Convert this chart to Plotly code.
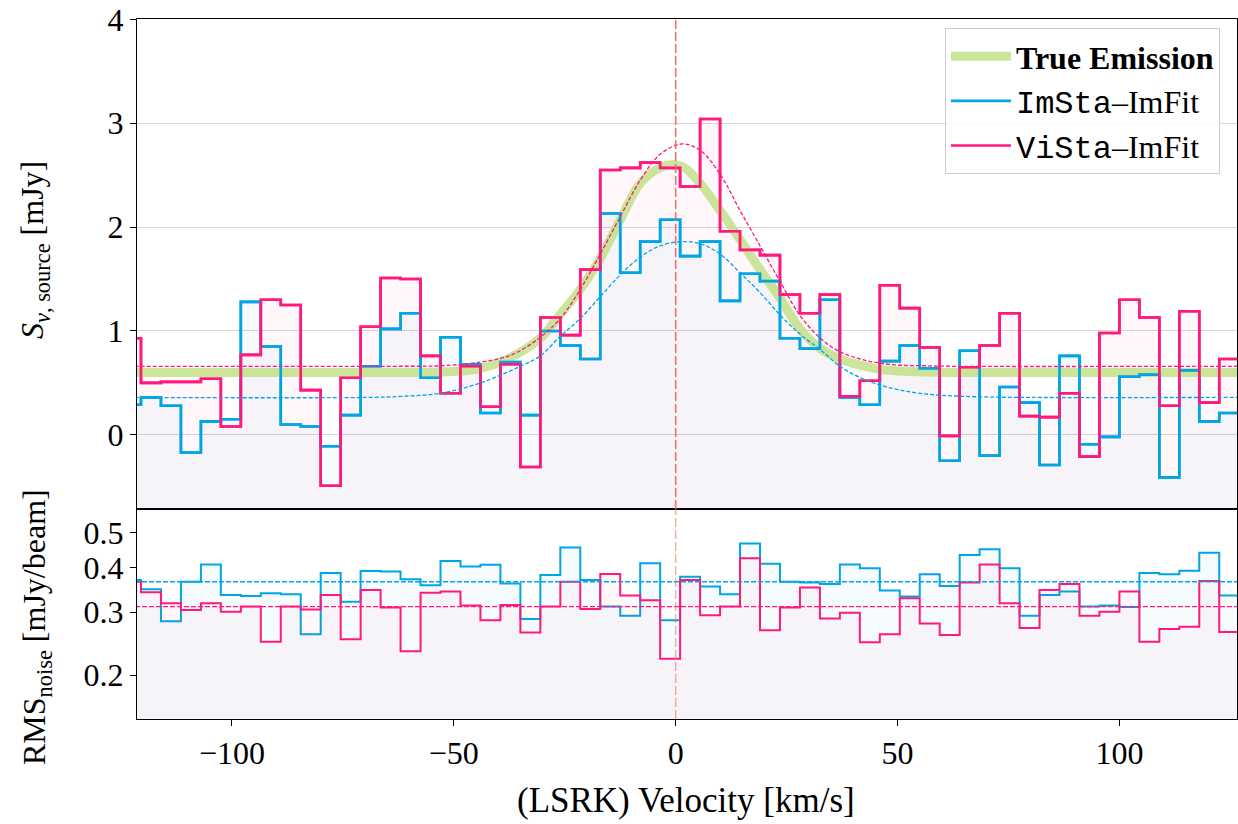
import plotly.graph_objects as go

# ---------------- data ----------------
channel_width = 4.5  # km/s
velocity = [-122.75, -118.25, -113.75, -109.25, -104.75, -100.25, -95.75, -91.25,
            -86.75, -82.25, -77.75, -73.25, -68.75, -64.25, -59.75, -55.25,
            -50.75, -46.25, -41.75, -37.25, -32.75, -28.25, -23.75, -19.25,
            -14.75, -10.25, -5.75, -1.25, 3.25, 7.75, 12.25, 16.75,
            21.25, 25.75, 30.25, 34.75, 39.25, 43.75, 48.25, 52.75,
            57.25, 61.75, 66.25, 70.75, 75.25, 79.75, 84.25, 88.75,
            93.25, 97.75, 102.25, 106.75, 111.25, 115.75, 120.25, 124.75]

vista_flux = [0.93, 0.50, 0.51, 0.51, 0.54, 0.08, 0.77, 1.30,
              1.25, 0.43, -0.49, 0.55, 1.04, 1.51, 1.50, 0.76,
              0.40, 0.66, 0.27, 0.68, -0.31, 1.13, 0.96, 1.59,
              2.55, 2.57, 2.62, 2.57, 2.39, 3.04, 1.96, 1.78,
              1.73, 1.35, 1.17, 1.35, 0.37, 0.52, 1.44, 1.22,
              0.84, -0.01, 0.65, 0.86, 1.17, 0.18, 0.17, 0.40,
              -0.21, 0.98, 1.30, 1.13, 0.28, 1.19, 0.31, 0.73]

imsta_flux = [0.29, 0.36, 0.28, -0.17, 0.13, 0.15, 1.28, 0.85,
              0.10, 0.08, -0.11, 0.19, 0.66, 1.02, 1.17, 0.55,
              0.94, 0.68, 0.21, 0.70, 0.19, 1.00, 0.86, 0.73,
              2.13, 1.56, 1.86, 2.07, 1.72, 1.86, 1.29, 1.55,
              1.48, 0.93, 0.83, 1.30, 0.36, 0.29, 0.71, 0.86,
              0.64, -0.25, 0.81, -0.20, 0.46, 0.31, -0.29, 0.76,
              -0.09, -0.02, 0.56, 0.58, -0.41, 0.62, 0.13, 0.21]

imsta_rms = [0.369, 0.348, 0.283, 0.365, 0.408, 0.335, 0.333, 0.339,
             0.337, 0.260, 0.386, 0.321, 0.391, 0.390, 0.371, 0.357,
             0.417, 0.403, 0.407, 0.361, 0.287, 0.381, 0.455, 0.369,
             0.311, 0.293, 0.411, 0.285, 0.377, 0.354, 0.337, 0.467,
             0.410, 0.365, 0.363, 0.360, 0.408, 0.398, 0.345, 0.332,
             0.383, 0.355, 0.434, 0.450, 0.398, 0.293, 0.335, 0.343,
             0.311, 0.313, 0.310, 0.386, 0.383, 0.392, 0.440, 0.334]

vista_rms = [0.365, 0.341, 0.318, 0.304, 0.318, 0.301, 0.311, 0.248,
             0.311, 0.305, 0.335, 0.252, 0.346, 0.309, 0.233, 0.340,
             0.343, 0.313, 0.285, 0.314, 0.263, 0.311, 0.365, 0.306,
             0.384, 0.334, 0.324, 0.222, 0.369, 0.294, 0.311, 0.425,
             0.267, 0.309, 0.352, 0.288, 0.299, 0.247, 0.260, 0.328,
             0.279, 0.259, 0.363, 0.408, 0.318, 0.271, 0.346, 0.360,
             0.293, 0.301, 0.343, 0.248, 0.269, 0.273, 0.367, 0.264]

imsta_rms_mean = 0.365
vista_rms_mean = 0.311

true_v = [-126, -70, -60, -50, -44, -37, -30.5, -26, -21.5, -17, -12.5, -8, -4, -1,
          2, 5.5, 10, 14.5, 19, 23.6, 28, 32.6, 37, 41.6, 46, 50.6, 56, 62, 70, 127]
true_flux = [0.60, 0.60, 0.60, 0.61, 0.64, 0.75, 0.93, 1.16, 1.40, 1.70, 2.07, 2.42, 2.56, 2.60,
             2.57, 2.42, 2.16, 1.88, 1.59, 1.31, 1.02, 0.83, 0.73, 0.67, 0.63, 0.615, 0.605, 0.60, 0.60, 0.60]

vista_fit_v = [-126, -62, -53, -44, -37, -30.5, -26, -21.5, -17, -12.5, -8, -3.5, 1.4,
               5.5, 10, 14.5, 19, 23.6, 28, 32.6, 37, 41.6, 46, 50.6, 56, 62, 127]
vista_fit = [0.66, 0.66, 0.665, 0.70, 0.77, 0.94, 1.12, 1.40, 1.74, 2.10, 2.45, 2.70, 2.80,
             2.74, 2.51, 2.16, 1.82, 1.47, 1.15, 0.93, 0.80, 0.73, 0.69, 0.67, 0.665, 0.66, 0.66]

imsta_fit_v = [-126, -70, -62, -53, -44, -35, -30.5, -26, -21.5, -17, -12.5, -8, -3.5, 1.4,
               5.5, 10, 14.5, 19, 23.6, 28, 32.6, 37, 41.6, 46, 50.6, 55, 60, 69, 80, 127]
imsta_fit = [0.36, 0.36, 0.37, 0.40, 0.50, 0.66, 0.76, 0.95, 1.12, 1.33, 1.54, 1.71, 1.82, 1.86,
             1.84, 1.74, 1.56, 1.37, 1.15, 0.97, 0.82, 0.66, 0.55, 0.48, 0.43, 0.40, 0.38, 0.365, 0.36, 0.36]

x_range = [-121.4, 126.5]

# ---------------- styles ----------------
BLUE = "rgb(0,165,230)"
PINK = "rgb(255,25,125)"
BLUE_FILL = "rgba(0,160,230,0.035)"
PINK_FILL = "rgba(255,25,125,0.035)"
GREEN = "rgba(185,222,120,0.75)"
SERIF = "Liberation Serif"
MONO = "Liberation Mono"
FS = 32

T, B = 19, 105
PH = 824 - T - B          # plot-area height in px
BOTTOM_PX = 824 - B       # pixel row of the lower x axis


def step_xy(vals):
    xs = [v - channel_width / 2 for v in velocity] + [velocity[-1] + channel_width / 2]
    ys = list(vals) + [vals[-1]]
    return xs, ys


def py(pix):
    return (BOTTOM_PX - pix) / PH


fig = go.Figure()
xe0 = velocity[0] - channel_width / 2
xe1 = velocity[-1] + channel_width / 2

# ---- legend entries (first, so they lead the legend) ----
fig.add_trace(go.Scatter(x=[None], y=[None], mode="lines", line=dict(color=GREEN, width=9),
                         name="<b>True Emission</b>", xaxis="x", yaxis="y"))
fig.add_trace(go.Scatter(x=[None], y=[None], mode="lines", line=dict(color=BLUE, width=2.6),
                         name=f"<span style='font-family:{MONO}'>ImSta</span>–ImFit", xaxis="x", yaxis="y"))
fig.add_trace(go.Scatter(x=[None], y=[None], mode="lines", line=dict(color=PINK, width=2.6),
                         name=f"<span style='font-family:{MONO}'>ViSta</span>–ImFit", xaxis="x", yaxis="y"))

# ---- top panel: fills + steps ----
for vals, col, fcol in [(imsta_flux, BLUE, BLUE_FILL), (vista_flux, PINK, PINK_FILL)]:
    fig.add_trace(go.Scatter(x=[xe0, xe1], y=[-5, -5], mode="lines", line=dict(width=0),
                             showlegend=False, hoverinfo="skip", xaxis="x", yaxis="y"))
    xs, ys = step_xy(vals)
    fig.add_trace(go.Scatter(x=xs, y=ys, mode="lines", line=dict(color=col, width=2.6, shape="hv"),
                             fill="tonexty", fillcolor=fcol, showlegend=False, xaxis="x", yaxis="y"))

# true emission
fig.add_trace(go.Scatter(x=true_v, y=true_flux, mode="lines",
                         line=dict(color=GREEN, width=9, shape="spline"),
                         showlegend=False, xaxis="x", yaxis="y"))

# redraw step lines on top of green
for vals, col in [(imsta_flux, BLUE), (vista_flux, PINK)]:
    xs, ys = step_xy(vals)
    fig.add_trace(go.Scatter(x=xs, y=ys, mode="lines", line=dict(color=col, width=2.6, shape="hv"),
                             showlegend=False, xaxis="x", yaxis="y"))

# fits
fig.add_trace(go.Scatter(x=imsta_fit_v, y=imsta_fit, mode="lines",
                         line=dict(color=BLUE, width=1.3, dash="4px,2px", shape="spline"),
                         showlegend=False, xaxis="x", yaxis="y"))
fig.add_trace(go.Scatter(x=vista_fit_v, y=vista_fit, mode="lines",
                         line=dict(color=PINK, width=1.3, dash="4px,2px", shape="spline"),
                         showlegend=False, xaxis="x", yaxis="y"))

# ---- bottom panel ----
for vals, col, fcol in [(imsta_rms, BLUE, BLUE_FILL), (vista_rms, PINK, PINK_FILL)]:
    fig.add_trace(go.Scatter(x=[xe0, xe1], y=[0.05, 0.05], mode="lines", line=dict(width=0),
                             showlegend=False, hoverinfo="skip", xaxis="x2", yaxis="y2"))
    xs, ys = step_xy(vals)
    fig.add_trace(go.Scatter(x=xs, y=ys, mode="lines", line=dict(color=col, width=2.0, shape="hv"),
                             fill="tonexty", fillcolor=fcol, showlegend=False, xaxis="x2", yaxis="y2"))

for mean, col in [(imsta_rms_mean, BLUE), (vista_rms_mean, PINK)]:
    fig.add_trace(go.Scatter(x=[xe0, xe1], y=[mean, mean], mode="lines",
                             line=dict(color=col, width=1.4, dash="5px,2px"),
                             showlegend=False, xaxis="x2", yaxis="y2"))

split = 210 / PH
axis_common = dict(showline=True, linecolor="black", linewidth=1, mirror=True,
                   zeroline=False, tickfont=dict(family=SERIF, size=FS, color="black"),
                   ticklen=6, tickcolor="black", automargin=False)

fig.update_layout(
    width=1238, height=824,
    margin=dict(l=137, r=1, t=T, b=B, autoexpand=False),
    paper_bgcolor="white", plot_bgcolor="white",
    font=dict(family=SERIF, size=FS, color="black"),
    xaxis=dict(domain=[0, 1], anchor="y", range=x_range, showticklabels=False, showgrid=False,
               matches="x2", ticks="", **axis_common),
    yaxis=dict(domain=[split, 1], anchor="x", range=[-0.714, 4.003], tickvals=[0, 1, 2, 3, 4],
               showgrid=True, gridcolor="#d6d6d6", gridwidth=1, ticks="outside",
               ticklabeloverflow="allow", **axis_common),
    xaxis2=dict(domain=[0, 1], anchor="y2", range=x_range, tickvals=[-100, -50, 0, 50, 100],
                showgrid=False, ticks="outside", **axis_common),
    yaxis2=dict(domain=[0, split], anchor="x2", type="log", range=[-0.822, -0.234],
                tickvals=[0.2, 0.3, 0.4, 0.5], ticktext=["0.2", "0.3", "0.4", "0.5"],
                showgrid=False, ticks="outside", **axis_common),
    legend=dict(x=0.9845, xanchor="right", y=py(28), yanchor="top", traceorder="normal",
                bgcolor="rgba(255,255,255,0.85)", bordercolor="#cccccc", borderwidth=1,
                font=dict(family=SERIF, size=FS, color="black"), itemwidth=60),
    showlegend=True,
    shapes=[
        dict(type="line", xref="x", yref="y domain", x0=0, x1=0, y0=0, y1=1,
             line=dict(color="rgba(240,100,90,0.9)", width=1.6, dash="9px,3px")),
        dict(type="line", xref="x2", yref="y2 domain", x0=0, x1=0, y0=0, y1=1,
             line=dict(color="rgba(240,110,100,0.55)", width=1.5, dash="9px,3px")),
    ],
    annotations=[
        dict(text="<i>S</i><sub><i>ν</i>, source</sub> [mJy]", xref="paper", yref="paper",
             x=(35 - 137) / 1100, y=py(250), xanchor="center", yanchor="middle",
             textangle=-90, showarrow=False, font=dict(family=SERIF, size=FS)),
        dict(text="RMS<sub>noise</sub> [mJy/beam]", xref="paper", yref="paper",
             x=(36 - 137) / 1100, y=py(627), xanchor="center", yanchor="middle",
             textangle=-90, showarrow=False, font=dict(family=SERIF, size=FS)),
        dict(text="(LSRK) Velocity [km/s]", xref="paper", yref="paper",
             x=(686 - 137) / 1100, y=py(800), xanchor="center", yanchor="middle",
             showarrow=False, font=dict(family=SERIF, size=FS + 3)),
    ],
)

fig.write_html("out.html")
